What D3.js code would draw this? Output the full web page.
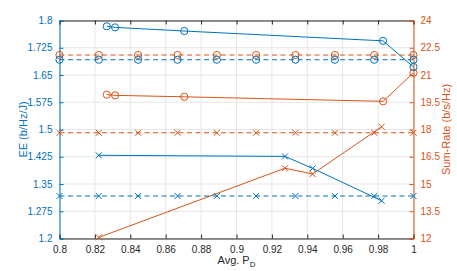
<!DOCTYPE html>
<html><head><meta charset="utf-8">
<script src="https://cdn.jsdelivr.net/npm/d3@7/dist/d3.min.js"></script>
<style>body{margin:0;background:#fff}svg{display:block}text{font-family:"Liberation Sans",Arial,sans-serif}</style>
</head><body>
<svg id="c" width="457" height="271"></svg>
<script>
const xTicks = [0.8,0.82,0.84,0.86,0.88,0.9,0.92,0.94,0.96,0.98,1];
const leftTicks = [1.2,1.275,1.35,1.425,1.5,1.575,1.65,1.725,1.8];
const rightTicks = [12,13.5,15,16.5,18,19.5,21,22.5,24];

// solid circle series (EE left, rate right)
const circX = [0.8267,0.8314,0.8705,0.9828,1.0];
const circEE = [1.784,1.781,1.771,1.744,1.672];
const circRate = [19.92,19.88,19.80,19.55,21.12];
// dashed circle series (baseline)
const baseX = [0.8,0.8222,0.8444,0.8667,0.8889,0.9111,0.9333,0.9556,0.9778,1.0];
const baseCircEE = [1.692,1.692,1.692,1.692,1.692,1.692,1.692,1.692,1.692,1.692];
const baseCircRate = [22.1,22.1,22.1,22.1,22.1,22.1,22.1,22.1,22.1,22.1];
// solid cross series
const crossX = [0.8222,0.9274,0.943,0.982];
const crossEE = [1.429,1.426,1.393,1.304];
const crossRate = [12.06,15.87,15.55,18.15];
// dashed cross series
const baseCrossEE = [1.317,1.317,1.317,1.317,1.317,1.317,1.317,1.317,1.317,1.317];
const baseCrossRate = [17.82,17.82,17.82,17.82,17.82,17.82,17.82,17.82,17.82,17.82];

const BLUE = "#0072BD", ORANGE = "#D95319", AX = "#262626";
const L = 59.5, R = 413.5, T = 20.5, B = 238.5;
const svg = d3.select("#c");
const x = d3.scaleLinear().domain([0.8,1]).range([L,R]);
const yL = d3.scaleLinear().domain([1.2,1.8]).range([B,T]);
const yR = d3.scaleLinear().domain([12,24]).range([B,T]);

// grid
const g = svg.append("g");
g.selectAll("line.vx").data(xTicks).join("line")
  .attr("x1",d=>x(d)).attr("x2",d=>x(d)).attr("y1",T).attr("y2",B)
  .attr("stroke","#e6e6e6").attr("stroke-width",1);
g.selectAll("line.hy").data(leftTicks).join("line")
  .attr("y1",d=>yL(d)).attr("y2",d=>yL(d)).attr("x1",L).attr("x2",R)
  .attr("stroke","#e6e6e6").attr("stroke-width",1);

// axes
const fs = 10;
const xb = svg.append("g").attr("transform",`translate(0,${B})`)
  .call(d3.axisBottom(x).tickValues(xTicks).tickSize(-4).tickPadding(7).tickFormat(d=>d3.format("")(+d.toFixed(2))));
xb.select(".domain").attr("stroke",AX);
xb.selectAll(".tick line").attr("stroke",AX);
xb.selectAll("text").attr("fill",AX).attr("font-size",fs);
const xt = svg.append("g").attr("transform",`translate(0,${T})`)
  .call(d3.axisTop(x).tickValues(xTicks).tickSize(-4).tickFormat(""));
xt.select(".domain").attr("stroke",AX);
xt.selectAll(".tick line").attr("stroke",AX);

const yl = svg.append("g").attr("transform",`translate(${L},0)`)
  .call(d3.axisLeft(yL).tickValues(leftTicks).tickSize(-4).tickPadding(7).tickFormat(d=>String(+d.toFixed(3))));
yl.select(".domain").attr("stroke",BLUE);
yl.selectAll(".tick line").attr("stroke",BLUE);
yl.selectAll("text").attr("fill",BLUE).attr("font-size",fs);
const yr = svg.append("g").attr("transform",`translate(${R},0)`)
  .call(d3.axisRight(yR).tickValues(rightTicks).tickSize(-4).tickPadding(7).tickFormat(d=>String(d)));
yr.select(".domain").attr("stroke",ORANGE);
yr.selectAll(".tick line").attr("stroke",ORANGE);
yr.selectAll("text").attr("fill",ORANGE).attr("font-size",fs);

// labels
svg.append("text").attr("transform",`translate(27,${(T+B)/2}) rotate(-90)`)
  .attr("text-anchor","middle").attr("fill",BLUE).attr("font-size",11).text("EE (b/Hz/J)");
svg.append("text").attr("transform",`translate(450,${(T+B)/2}) rotate(-90)`)
  .attr("text-anchor","middle").attr("fill",ORANGE).attr("font-size",11).text("Sum-Rate (b/s/Hz)");
const xl = svg.append("text").attr("x",(L+R)/2).attr("y",264).attr("text-anchor","middle")
  .attr("fill",AX).attr("font-size",11);
xl.append("tspan").text("Avg. P");
xl.append("tspan").attr("font-size",8).attr("dy",3).text("D");

function series(xs, ys, yScale, color, dashed, marker){
  const pts = xs.map((v,i)=>[x(v), yScale(ys[i])]);
  svg.append("path").attr("d", d3.line()(pts)).attr("fill","none")
    .attr("stroke",color).attr("stroke-width",1)
    .attr("stroke-dasharray", dashed ? "5,3.5" : null);
  const mg = svg.append("g");
  pts.forEach(p=>{
    if(marker==="o"){
      mg.append("circle").attr("cx",p[0]).attr("cy",p[1]).attr("r",3.6)
        .attr("fill","none").attr("stroke",color).attr("stroke-width",1);
    } else {
      const s=3;
      mg.append("path").attr("d",`M${p[0]-s},${p[1]-s}L${p[0]+s},${p[1]+s}M${p[0]-s},${p[1]+s}L${p[0]+s},${p[1]-s}`)
        .attr("stroke",color).attr("stroke-width",1).attr("fill","none");
    }
  });
}
series(circX, circRate, yR, ORANGE, false, "o");
series(baseX, baseCircRate, yR, ORANGE, true, "o");
series(crossX, crossRate, yR, ORANGE, false, "x");
series(baseX, baseCrossRate, yR, ORANGE, true, "x");
series(circX, circEE, yL, BLUE, false, "o");
series(baseX, baseCircEE, yL, BLUE, true, "o");
series(crossX, crossEE, yL, BLUE, false, "x");
series(baseX, baseCrossEE, yL, BLUE, true, "x");
</script>
</body></html>
